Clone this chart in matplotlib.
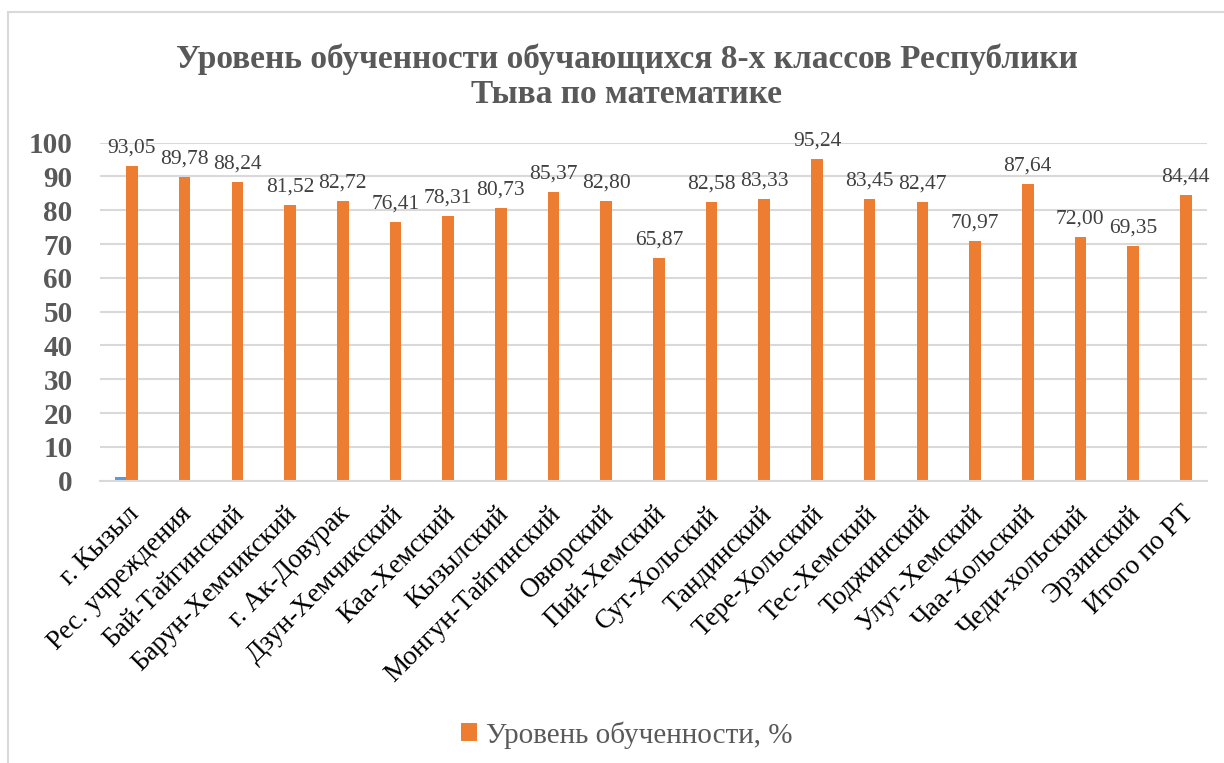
import numpy as np
import matplotlib.pyplot as plt
from matplotlib.patches import Rectangle

plt.rcParams['font.family'] = ['Liberation Serif', 'DejaVu Serif']

# категории (районы)
categories = ['г. Кызыл', 'Рес. учреждения', 'Бай-Тайгинский', 'Барун-Хемчикский',
              'г. Ак-Довурак', 'Дзун-Хемчикский', 'Каа-Хемский', 'Кызылский',
              'Монгун-Тайгинский', 'Овюрский', 'Пий-Хемский', 'Сут-Хольский',
              'Тандинский', 'Тере-Хольский', 'Тес-Хемский', 'Тоджинский',
              'Улуг-Хемский', 'Чаа-Хольский', 'Чеди-хольский', 'Эрзинский', 'Итого по РТ']
# уровень обученности, %
level = [93.05, 89.78, 88.24, 81.52, 82.72, 76.41, 78.31, 80.73, 85.37, 82.80, 65.87,
         82.58, 83.33, 95.24, 83.45, 82.47, 70.97, 87.64, 72.00, 69.35, 84.44]
# второй ряд (почти пустой)
other = [1, 0, 0, 0, 0, 0, 0, 0, 0, 0, 0, 0, 0, 0, 0, 0, 0, 0, 0, 0, 0]

grey = '#595959'
fig = plt.figure(figsize=(12.24, 7.63), dpi=100)
ax = fig.add_axes([0.082, 0.370, 0.904, 0.443])

x = np.arange(len(categories))
w = 0.22
ax.bar(x - 0.12, other, w, color='#5B9BD5')
bars = ax.bar(x + 0.1, level, w, color='#ED7D31', label='Уровень обученности, %')

for xi, v in zip(x, level):
    ax.text(xi + 0.1, v + 2.5, ('%.2f' % v).replace('.', ','), ha='center', va='bottom',
            fontsize=15.5, color='#404040', clip_on=False)

ax.set_xlim(-0.5, len(categories) - 0.5)
ax.set_ylim(0, 100)
ax.set_yticks(range(0, 101, 10))
ax.tick_params(axis='y', length=0, labelsize=21, labelcolor=grey, pad=20)
for t in ax.get_yticklabels():
    t.set_fontweight('bold')
ax.set_xticks(x)
ax.set_xticklabels(categories, rotation=45, ha='right', rotation_mode='anchor',
                   fontsize=19.5, color='black')
ax.tick_params(axis='x', length=0, pad=15)
ax.grid(axis='y', color='#d9d9d9', linewidth=1.5)
ax.set_axisbelow(True)
for s in ['top', 'right', 'left']:
    ax.spines[s].set_visible(False)
ax.spines['bottom'].set_color('#d9d9d9')
ax.spines['bottom'].set_linewidth(1.5)

fig.suptitle('Уровень обученности обучающихся 8-х классов Республики\nТыва по математике',
             fontsize=24, fontweight='bold', color=grey, x=0.512, y=1 - 77 / 763,
             va='center', linespacing=1.15)

fig.legend(handles=[bars], loc='center', bbox_to_anchor=(0.512, 0.037), frameon=False,
           fontsize=21, handlelength=0.55, handleheight=0.55, handletextpad=0.3,
           labelcolor=grey)

fig.patches.append(Rectangle((8 / 1224, -0.02), 1.1, 1 - 12 / 763 + 0.02,
                             transform=fig.transFigure, fill=False,
                             edgecolor='#d9d9d9', linewidth=1.5))

plt.savefig('out.png')
